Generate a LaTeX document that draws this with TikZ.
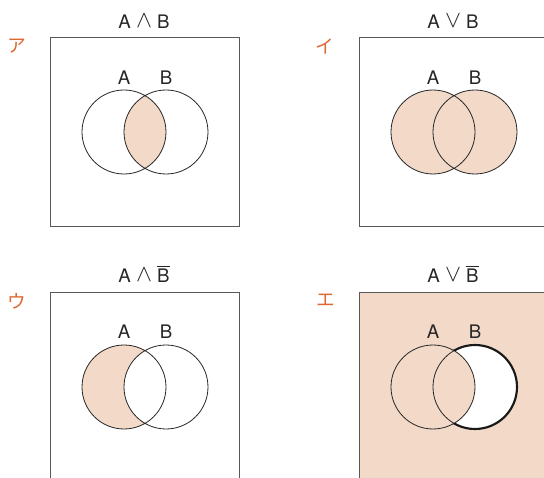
\documentclass[tikz,border=0pt]{standalone}
\usepackage{fontspec}
\setmainfont{TeX Gyre Heros}
\newfontfamily\jpfont{Noto Sans CJK JP}
\usetikzlibrary{positioning}
\definecolor{vennFill}{RGB}{242,217,200}
\definecolor{kanaOrange}{RGB}{222,104,52}
\definecolor{frameGray}{RGB}{88,88,88}
\tikzset{
  frame/.style={draw=frameGray,line width=0.75pt},
  ring/.style={draw=black!85,line width=0.6pt},
  thickring/.style={draw=black!90,line width=1.6pt},
  setlabel/.style={font=\fontsize{14}{15}\selectfont,text=black!85,inner sep=0pt},
  kana/.style={font=\jpfont\fontsize{14}{15}\selectfont,text=kanaOrange,inner sep=0pt},
}
\newcommand{\Rad}{31.5pt}
\newcommand{\Op}[1]{\raisebox{0.1ex}{\scalebox{1.25}{$#1$}}}

\begin{document}
\begin{tikzpicture}[x=0.75pt,y=-0.75pt]
\useasboundingbox (0,0) rectangle (544,478);
\clip (0,0) rectangle (544,478);
% circle centres
\coordinate (a1) at (124,132); \coordinate (b1) at (166,132);
\coordinate (a2) at (433,132); \coordinate (b2) at (475,132);
\coordinate (a3) at (124,387); \coordinate (b3) at (166,387);
\coordinate (a4) at (433,387); \coordinate (b4) at (475,387);

% panel 1 : A and B
\draw[frame] (50,38) rectangle (239,227);
\begin{scope}
  \clip (a1) circle[radius=\Rad];
  \fill[vennFill] (b1) circle[radius=\Rad];
\end{scope}
\draw[ring] (a1) circle[radius=\Rad] (b1) circle[radius=\Rad];

% panel 2 : A or B
\draw[frame] (359,38) rectangle (560,227);
\fill[vennFill] (a2) circle[radius=\Rad] (b2) circle[radius=\Rad];
\draw[ring] (a2) circle[radius=\Rad] (b2) circle[radius=\Rad];

% panel 3 : A and not B
\draw[frame] (50,293) rectangle (239,500);
\fill[vennFill] (a3) circle[radius=\Rad];
\fill[white] (b3) circle[radius=\Rad];
\draw[ring] (a3) circle[radius=\Rad] (b3) circle[radius=\Rad];

% panel 4 : A or not B
\draw[frame,fill=vennFill] (359,293) rectangle (560,500);
\fill[white] (b4) circle[radius=\Rad];
\fill[vennFill] (a4) circle[radius=\Rad];
\draw[ring] (a4) circle[radius=\Rad] (b4) circle[radius=\Rad];
\begin{scope}[even odd rule]
  \clip (350,280) rectangle (560,500) (a4) circle[radius=\Rad];
  \draw[thickring] (b4) circle[radius=\Rad];
\end{scope}

% titles
\node[setlabel] (t1) at (144,21) {A \Op{\wedge} B};
\node[setlabel] (t2) at (453,21) {A \Op{\vee} B};
\node[setlabel] (t3) at (144,274) {A \Op{\wedge} $\overline{\mbox{B}}$};
\node[setlabel] (t4) at (453,274) {A \Op{\vee} $\overline{\mbox{B}}$};

% set names
\foreach \i/\y in {1/78,2/78,3/332,4/332}{
  \node[setlabel] (la\i) at (a\i |- 0,\y) {A};
  \node[setlabel] (lb\i) at (b\i |- 0,\y) {B};
}

% choices
\node[kana] (k1) at (17,46) {ア};
\node[kana] (k2) at (325,46) {イ};
\node[kana] (k3) at (17,301) {ウ};
\node[kana] (k4) at (326,300) {エ};
\end{tikzpicture}
\end{document}
